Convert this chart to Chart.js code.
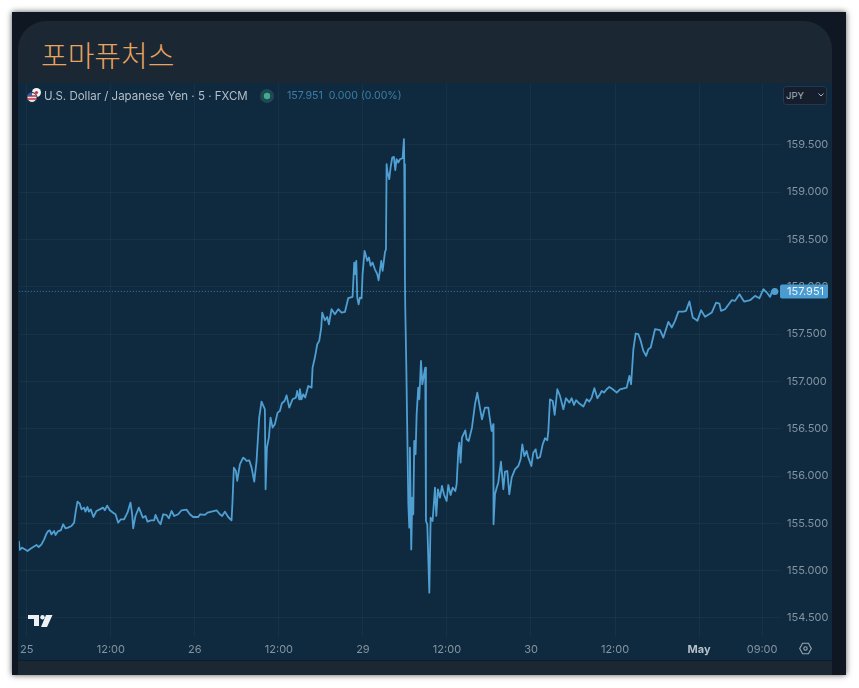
<!DOCTYPE html>
<html lang="ko">
<head>
<meta charset="utf-8">
<title>포마퓨처스</title>
<script src="https://cdn.jsdelivr.net/npm/chart.js@4"></script>
<style>
    html, body { margin: 0; padding: 0; background: #fff; overflow: hidden; }
    body { width: 859px; height: 688px; position: relative; font-family: Inter, "Liberation Sans", sans-serif; }
    .frame { position: absolute; left: 12px; top: 12px; width: 834px; height: 663px; background: #0e1722; box-shadow: 0 0 6px rgba(0,0,0,0.65); }
    .card { position: absolute; left: 18px; top: 21px; width: 814px; height: 654px; background: #1b2733; border-radius: 28px 28px 0 0; }
    .title { position: absolute; left: 41px; top: 35px; font: 300 29px/38px "Noto Sans CJK KR", sans-serif; color: #e8a35f; white-space: nowrap; }
    .panel { position: absolute; left: 18px; top: 83px; width: 814px; height: 577px; background: #0f2a3f; border-bottom: 1px solid #0f1c2a; }
    /* canvas sticks out a bit on the left and top: Chart.js keeps room there for the edge tick labels */
    canvas { position: absolute; left: 13px; top: 78px; }
    .legend { position: absolute; top: 88px; height: 16px; font-size: 11.5px; line-height: 16px; white-space: nowrap; }
    .symbol { left: 44px; color: #b4bfc8; }
    .quote { left: 287px; color: #3c7fa9; font-size: 10.6px; }
    .currency { position: absolute; left: 783px; top: 86px; width: 44px; height: 19px; box-sizing: border-box; background: #141e2c; border: 1px solid #2a3646; border-radius: 3px; color: #aab3bb; font-size: 9.5px; line-height: 18px; padding-left: 2px; }
    svg { position: absolute; }
</style>
</head>
<body>
<div class="frame"></div>
<div class="card"></div>
<div class="title">포마퓨처스</div>
<div class="panel"></div>
<canvas id="priceChart" width="819" height="583"></canvas>

<svg style="left:26px;top:87px" width="16" height="17" viewBox="0 0 16 17">
    <circle cx="10.5" cy="5.5" r="4.5" fill="#f3f3f3"/>
    <circle cx="10.5" cy="5.5" r="1.6" fill="#c8324a"/>
    <circle cx="6" cy="10.5" r="5" fill="#e9e6e6" stroke="#102a3f"/>
    <path d="M1.5 9h9M1.5 12h9" stroke="#c8324a" stroke-width="1.3"/>
    <path d="M1.5 9a5 5 0 0 1 4.5-3.4V9z" fill="#3b5aa0"/>
</svg>
<div class="legend symbol">U.S. Dollar / Japanese Yen · 5 · FXCM</div>
<svg style="left:259px;top:88px" width="16" height="16">
    <circle cx="8" cy="8" r="7" fill="#1d4a52"/>
    <circle cx="8" cy="8" r="3.2" fill="#45a98c"/>
</svg>
<div class="legend quote">157.951&nbsp; 0.000 (0.00%)</div>
<div class="currency">JPY</div>
<svg style="left:817px;top:92px" width="8" height="6">
    <path d="M1.5 1.5L4 4l2.5-2.5" fill="none" stroke="#aab3bb" stroke-width="1"/>
</svg>

<svg style="left:28px;top:614px" width="25" height="14" viewBox="0 0 25 14">
    <path d="M0 1h11v11H6V5H0z" fill="#eef1f3"/>
    <circle cx="14.5" cy="3.2" r="2.2" fill="#eef1f3"/>
    <path d="M18 1h6.5L19 13h-6z" fill="#eef1f3"/>
</svg>
<svg style="left:799px;top:642px" width="13" height="13" viewBox="0 0 13 13">
    <path d="M3.6 1.2h5.8l2.9 5.3-2.9 5.3H3.6L.7 6.5z" fill="none" stroke="#9aa6b0" stroke-width="1.1"/>
    <circle cx="6.5" cy="6.5" r="1.7" fill="none" stroke="#9aa6b0" stroke-width="1.1"/>
</svg>

<script>
// Trading hours counted from the open of the 25th (weekend gap removed), 5 min bars thinned out
const hours = [
    -1.14, -1.0, -0.67, -0.29, 0.10, 0.43, 0.76, 1.14, 1.38, 1.71, 2.10, 2.48, 2.81, 3.05, 3.29, 3.52, 3.90, 4.10, 4.48, 4.86,
    5.19, 5.52, 5.90, 6.38, 6.76, 7.00, 7.24, 7.57, 7.81, 8.19, 8.38, 8.67, 8.86, 9.14, 9.52, 9.95, 10.43, 10.90, 11.14, 11.48,
    11.86, 12.33, 12.67, 13.05, 13.43, 13.90, 14.38, 14.81, 15.05, 15.19, 15.52, 16.0, 16.29, 16.57, 16.95, 17.24, 17.71, 18.19, 18.38, 18.76,
    19.10, 19.48, 19.95, 20.29, 20.67, 21.05, 21.62, 22.10, 22.81, 23.29, 23.76, 24.48, 24.76, 25.43, 25.81, 26.38, 27.10, 27.57, 27.90, 28.29,
    28.76, 29.24, 29.38, 29.57, 29.86, 30.05, 30.43, 30.9, 31.19, 31.38, 31.76, 32.1, 32.48, 32.81, 33.19, 33.52, 34.0, 34.1, 34.29, 34.57,
    34.81, 35.1, 35.43, 35.81, 36.14, 36.43, 36.81, 37.1, 37.48, 37.95, 38.43, 38.62, 38.9, 39.0, 39.24, 39.48, 39.76, 40.19, 40.67, 40.81,
    41.14, 41.48, 41.76, 42.05, 42.19, 42.57, 42.9, 43.14, 43.52, 44.0, 44.48, 44.95, 45.43, 45.9, 46.52, 46.76, 46.9, 47.05, 47.19, 47.38,
    47.57, 47.81, 47.95, 48.24, 48.62, 48.86, 49.1, 49.38, 49.71, 50.05, 50.24, 50.62, 50.81, 51.14, 51.29, 51.38, 51.48, 51.76, 51.95, 52.19,
    52.43, 52.62, 52.81, 53.05, 53.29, 53.67, 53.86, 53.9, 54.0, 54.05, 54.19, 54.48, 54.62, 54.71, 54.9, 55.05, 55.19, 55.33, 55.52, 55.67,
    55.9, 56.05, 56.29, 56.48, 56.71, 56.9, 57.0, 57.19, 57.48, 57.67, 57.95, 58.29, 58.48, 58.71, 59.0, 59.29, 59.57, 59.95, 60.19, 60.52,
    60.81, 61.19, 61.38, 61.62, 61.76, 61.95, 62.14, 62.62, 62.81, 63.1, 63.57, 64.0, 64.33, 64.62, 65.0, 65.43, 65.9, 66.14, 66.38, 66.62,
    66.65, 66.86, 67.1, 67.33, 67.71, 68.05, 68.29, 68.62, 68.9, 69.24, 69.71, 70.19, 70.52, 70.76, 71.05, 71.38, 71.62, 72.05, 72.33, 72.67,
    72.9, 73.29, 73.67, 74.0, 74.33, 74.48, 74.71, 75.1, 75.38, 75.76, 76.14, 76.62, 77.0, 77.48, 77.81, 78.14, 78.43, 78.9, 79.48, 79.95,
    80.33, 80.67, 81.05, 81.48, 81.86, 82.1, 82.43, 82.81, 83.19, 83.67, 84.24, 84.71, 85.67, 86.05, 86.29, 86.62, 86.95, 87.33, 87.67, 88.05,
    88.43, 88.76, 89.1, 89.71, 90.43, 90.9, 91.62, 92.1, 92.57, 93.05, 93.76, 94.14, 94.62, 95.1, 95.76, 96.29, 96.86, 97.81, 98.43, 98.9,
    99.14, 99.71, 100.67, 101.14, 101.76, 102.43, 103.29, 104.0, 104.62, 105.19, 105.67, 106.14, 106.43, 106.81
];
const prices = [
    155.314, 155.219, 155.243, 155.226, 155.208, 155.226, 155.243, 155.261, 155.271, 155.250, 155.278, 155.331, 155.391, 155.419, 155.426, 155.384, 155.419, 155.377, 155.419, 155.426,
    155.490, 155.448, 155.455, 155.472, 155.507, 155.631, 155.730, 155.708, 155.648, 155.666, 155.624, 155.673, 155.624, 155.648, 155.567, 155.631, 155.648, 155.666, 155.638, 155.687,
    155.638, 155.613, 155.596, 155.507, 155.543, 155.543, 155.613, 155.719, 155.596, 155.448, 155.578, 155.666, 155.613, 155.560, 155.578, 155.518, 155.532, 155.532, 155.589, 155.525,
    155.490, 155.596, 155.589, 155.553, 155.631, 155.578, 155.596, 155.638, 155.645, 155.596, 155.567, 155.567, 155.596, 155.589, 155.613, 155.624, 155.638, 155.596, 155.578, 155.624,
    155.567, 155.532, 155.736, 156.089, 156.053, 155.948, 156.124, 156.194, 156.177, 156.159, 156.166, 156.089, 155.941, 156.159, 156.617, 156.786, 156.705, 155.86, 156.30, 156.406,
    156.617, 156.512, 156.547, 156.670, 156.688, 156.769, 156.793, 156.853, 156.723, 156.811, 156.829, 156.899, 156.811, 156.917, 156.811, 156.864, 156.829, 156.952, 156.934, 157.146,
    157.252, 157.393, 157.428, 157.569, 157.727, 157.646, 157.681, 157.604, 157.763, 157.710, 157.763, 157.727, 157.734, 157.879, 157.893, 158.256, 158.133, 158.274, 157.886, 157.815,
    157.886, 157.879, 158.133, 158.379, 158.274, 158.309, 158.221, 158.256, 158.185, 158.133, 158.069, 158.274, 158.168, 158.362, 158.397, 159.296, 159.225, 159.137, 159.260, 159.366,
    159.373, 159.232, 159.348, 159.313, 159.348, 159.359, 159.560, 159.296, 158.080, 157.763, 157.181, 155.719, 155.454, 156.30, 155.225, 155.771, 155.595, 156.371, 156.23, 156.652,
    156.934, 156.811, 157.216, 156.97, 157.068, 157.146, 155.525, 155.49, 154.767, 155.56, 155.525, 155.877, 155.578, 155.86, 155.771, 155.895, 155.807, 155.736, 155.905, 155.80,
    155.877, 155.842, 155.912, 156.265, 156.353, 156.141, 156.406, 156.483, 156.388, 156.371, 156.511, 156.758, 156.881, 156.758, 156.6, 156.723, 156.723, 156.6, 156.476, 156.547,
    155.49, 155.807, 155.877, 155.93, 156.152, 155.86, 156.046, 156.053, 155.807, 155.983, 156.071, 156.106, 156.177, 156.335, 156.21, 156.265, 156.194, 156.106, 156.247, 156.282,
    156.187, 156.201, 156.335, 156.399, 156.378, 156.477, 156.811, 156.794, 156.646, 156.917, 156.847, 156.706, 156.822, 156.776, 156.822, 156.751, 156.801, 156.766, 156.734, 156.811,
    156.787, 156.829, 156.928, 156.822, 156.864, 156.899, 156.882, 156.917, 156.942, 156.917, 156.882, 156.917, 156.935, 157.058, 156.97, 157.340, 157.506, 157.499, 157.428, 157.322,
    157.270, 157.340, 157.358, 157.552, 157.541, 157.463, 157.629, 157.569, 157.640, 157.738, 157.738, 157.745, 157.844, 157.675, 157.640, 157.752, 157.682, 157.728, 157.833, 157.823,
    157.745, 157.763, 157.858, 157.851, 157.922, 157.844, 157.858, 157.904, 157.879, 157.974, 157.939, 157.893, 157.957, 157.951
];

const lastPrice = 157.951;
const priceTicks = [154.5, 155, 155.5, 156, 156.5, 157, 157.5, 158, 158.5, 159, 159.5];
const timeTicks = [0, 12, 24, 36, 48, 60, 72, 84, 96, 105];
const timeLabels = ['25', '12:00', '26', '12:00', '29', '12:00', '30', '12:00', 'May', '09:00'];

const xMin = -1.14;
const xMax = 107.7;
const lineColor = '#4f9fd2';
const tickColor = '#8494a1';
const gridColor = 'rgba(255, 255, 255, 0.035)';
const chartFont = 'Inter, "Liberation Sans", sans-serif';

// Price tag on the right axis, drawn over the 158.000 label like TradingView does
const lastPriceTag = {
    id: 'lastPriceTag',
    afterDraw(chart) {
        const ctx = chart.ctx;
        const y = chart.scales.y.getPixelForValue(lastPrice);
        const left = chart.chartArea.right - 1;
        ctx.save();
        ctx.fillStyle = '#4a9bd0';
        ctx.beginPath();
        ctx.roundRect(left, y - 7, 48, 14, 2);
        ctx.fill();
        ctx.fillStyle = '#eaf4fa';
        ctx.font = '11px ' + chartFont;
        ctx.textAlign = 'left';
        ctx.textBaseline = 'middle';
        ctx.fillText(lastPrice.toFixed(3), left + 7, y + 0.5);
        ctx.restore();
    }
};

new Chart(document.getElementById('priceChart').getContext('2d'), {
    type: 'line',
    data: {
        datasets: [{
            data: hours.map((h, i) => ({ x: h, y: prices[i] })),
            borderColor: lineColor,
            borderWidth: 1.8,
            borderJoinStyle: 'round',
            backgroundColor: lineColor,
            tension: 0,
            pointRadius: ctx => ctx.dataIndex === hours.length - 1 ? 2.6 : 0
        }, {
            data: [{ x: xMin, y: lastPrice }, { x: xMax, y: lastPrice }],
            borderColor: '#3f7fa6',
            borderWidth: 1,
            borderDash: [1, 2],
            pointRadius: 0
        }]
    },
    options: {
        responsive: false,
        animation: false,
        layout: { padding: 0 },
        plugins: { legend: { display: false }, tooltip: { enabled: false } },
        scales: {
            x: {
                type: 'linear',
                min: xMin,
                max: xMax,
                afterBuildTicks: axis => { axis.ticks = timeTicks.map(v => ({ value: v })); },
                afterFit: axis => { axis.height = 24; axis.paddingLeft = 0; axis.paddingRight = 0; },
                border: { display: false },
                grid: { color: gridColor, drawTicks: false },
                ticks: {
                    autoSkip: false,
                    maxRotation: 0,
                    padding: 6,
                    color: ctx => timeLabels[ctx.index] === 'May' ? '#b4bfc8' : tickColor,
                    font: ctx => ({
                        family: chartFont,
                        size: 11,
                        weight: timeLabels[ctx.index] === 'May' ? 'bold' : 'normal'
                    }),
                    callback: (value, index) => timeLabels[index]
                }
            },
            y: {
                position: 'right',
                min: 154.299,
                max: 160.145,
                afterBuildTicks: axis => { axis.ticks = priceTicks.map(v => ({ value: v })); },
                afterFit: axis => { axis.width = 51; axis.paddingTop = 0; axis.paddingBottom = 0; },
                border: { display: false },
                grid: { color: gridColor, drawTicks: false },
                ticks: {
                    padding: 6,
                    color: tickColor,
                    font: { family: chartFont, size: 11 },
                    callback: value => value.toFixed(3)
                }
            }
        }
    },
    plugins: [lastPriceTag]
});
</script>
</body>
</html>
